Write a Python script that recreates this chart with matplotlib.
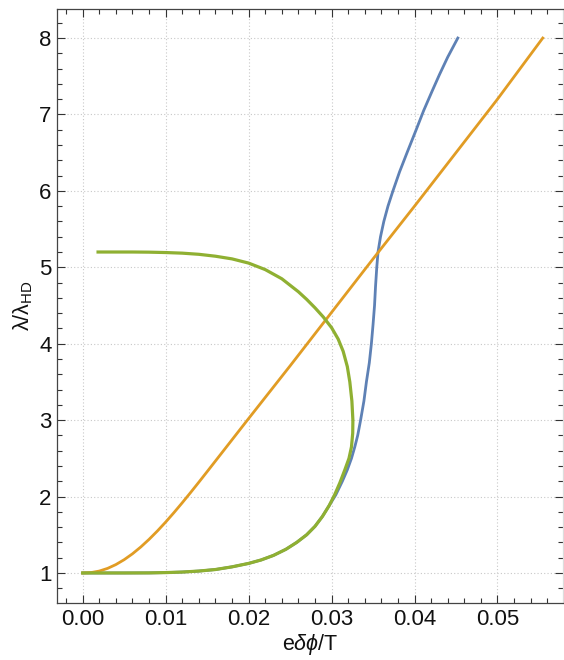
import matplotlib
matplotlib.use("Agg")
import matplotlib.pyplot as plt
from matplotlib.ticker import MultipleLocator

plt.rcParams['font.family'] = ['Liberation Sans', 'DejaVu Sans']
plt.rcParams['mathtext.fontset'] = 'custom'
plt.rcParams['mathtext.rm'] = 'Liberation Sans'
plt.rcParams['mathtext.it'] = 'Liberation Sans:italic'
plt.rcParams['mathtext.bf'] = 'Liberation Sans:bold'

# ---- data ----
blue_x = [0.0, 0.005, 0.008, 0.010, 0.012, 0.014, 0.016, 0.018, 0.0200, 0.0215, 0.0230,
          0.0245, 0.0258, 0.0270, 0.0280, 0.0289, 0.0297, 0.0305, 0.0313, 0.0319,
          0.0324, 0.0328, 0.03315, 0.0335, 0.0339, 0.0342, 0.03455, 0.0348, 0.0350,
          0.03518, 0.0353, 0.03545, 0.0356, 0.0359, 0.0363, 0.0368, 0.0374, 0.0382,
          0.0391, 0.0402, 0.0411, 0.0421, 0.0430, 0.0440, 0.04522]
blue_y = [1.0, 1.0, 1.001, 1.005, 1.012, 1.025, 1.045, 1.08, 1.125, 1.17, 1.23,
          1.31, 1.40, 1.50, 1.61, 1.74, 1.88, 2.02, 2.20, 2.35,
          2.50, 2.65, 2.80, 3.00, 3.25, 3.50, 3.75, 4.00, 4.25,
          4.50, 4.75, 5.00, 5.20, 5.40, 5.60, 5.80, 6.00, 6.25,
          6.50, 6.80, 7.05, 7.30, 7.52, 7.75, 8.0]

orange_x = [0.0, 0.001, 0.002, 0.003, 0.004, 0.005, 0.006, 0.007, 0.008, 0.009, 0.010,
            0.011, 0.012, 0.013, 0.014, 0.015, 0.016, 0.018, 0.0199, 0.025, 0.030,
            0.035, 0.040, 0.045, 0.050, 0.05546]
orange_y = [1.0, 1.005, 1.025, 1.06, 1.11, 1.174, 1.251, 1.34, 1.44, 1.549, 1.666,
            1.79, 1.919, 2.052, 2.188, 2.326, 2.465, 2.743, 3.007, 3.71, 4.41,
            5.11, 5.80, 6.50, 7.20, 8.0]

green_x = [0.00185, 0.004, 0.006, 0.008, 0.010, 0.012, 0.014, 0.016, 0.018, 0.020,
           0.022, 0.024, 0.026, 0.027, 0.028, 0.029, 0.030, 0.0308, 0.0314, 0.0319,
           0.0322, 0.03245, 0.03257, 0.03255, 0.0324, 0.0321, 0.0316, 0.0310, 0.0304,
           0.0297, 0.0289, 0.0280, 0.0270, 0.0258, 0.0245, 0.0230, 0.0215, 0.0200,
           0.018, 0.016, 0.014, 0.012, 0.010, 0.008, 0.005, 0.0]
green_y = [5.20, 5.20, 5.20, 5.198, 5.193, 5.185, 5.17, 5.145, 5.11, 5.055,
           4.97, 4.85, 4.68, 4.58, 4.47, 4.35, 4.21, 4.06, 3.90, 3.70,
           3.50, 3.25, 3.00, 2.83, 2.65, 2.50, 2.35, 2.18, 2.03,
           1.88, 1.74, 1.61, 1.50, 1.40, 1.31, 1.23, 1.17, 1.125,
           1.08, 1.045, 1.025, 1.012, 1.005, 1.001, 1.0, 1.0]

x_ticks = [0.00, 0.01, 0.02, 0.03, 0.04, 0.05]
x_ticklabels = ['0.00', '0.01', '0.02', '0.03', '0.04', '0.05']
y_ticks = [1, 2, 3, 4, 5, 6, 7, 8]
y_ticklabels = ['1', '2', '3', '4', '5', '6', '7', '8']

# ---- figure ----
fig = plt.figure(figsize=(5.64, 6.60), dpi=100)
ax = fig.add_axes([57/564, 1 - 603/660, (563 - 57)/564, (603 - 9)/660])

lw = 2.0
ax.plot(blue_x, blue_y, color='#5E81B5', lw=lw, zorder=3, solid_joinstyle='round')
ax.plot(orange_x, orange_y, color='#E19C24', lw=lw, zorder=4, solid_joinstyle='round')
ax.plot(green_x, green_y, color='#8FB032', lw=lw + 0.3, zorder=5, solid_joinstyle='round')

ax.set_xlim(-0.0031, 0.0579)
ax.set_ylim(0.607, 8.38)

ax.set_xticks(x_ticks)
ax.set_xticklabels(x_ticklabels)
ax.set_yticks(y_ticks)
ax.set_yticklabels(y_ticklabels)
ax.xaxis.set_minor_locator(MultipleLocator(0.002))
ax.yaxis.set_minor_locator(MultipleLocator(0.2))

ax.tick_params(which='both', direction='in', top=True, right=True, colors='#333333',
               labelcolor='#111111', labelsize=16, width=0.8)
ax.tick_params(which='major', length=6, pad=4)
ax.tick_params(which='minor', length=3.5)

ax.grid(True, which='major', linestyle=(0, (1, 2)), color='#c8c8c8', lw=0.8)
ax.set_axisbelow(True)

for s in ax.spines.values():
    s.set_color('#444444')
    s.set_linewidth(0.9)
ax.spines['right'].set_color('#dddddd')

ax.set_xlabel(r'e$\mathit{δϕ}$/T', fontsize=15.5, color='#111111', labelpad=2)
ax.set_ylabel(r'$\mathregular{λ/λ_{HD}}$', fontsize=15.5, color='#111111', labelpad=3)

fig.savefig('out.png', dpi=100)
